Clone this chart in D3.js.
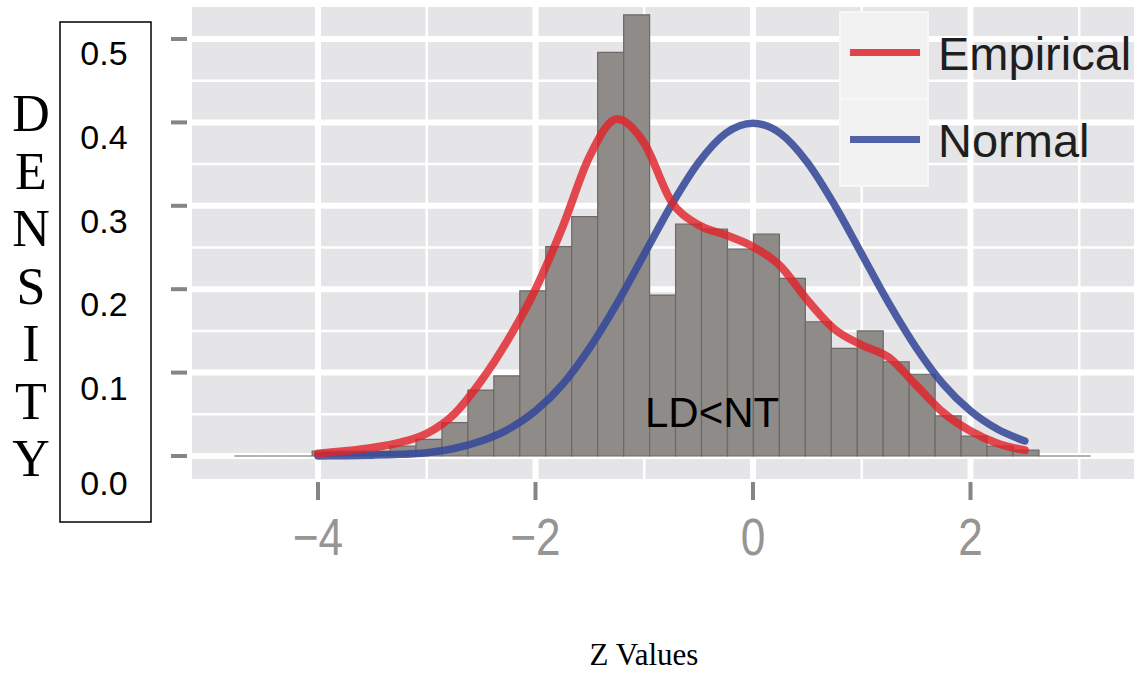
<!DOCTYPE html>
<html>
<head>
<meta charset="utf-8">
<script src="https://cdn.jsdelivr.net/npm/d3@7"></script>
<style>
  body { margin: 0; background: #fff; }
  svg { display: block; }
</style>
</head>
<body>
<svg id="chart"></svg>
<script>
// set the dimensions of the canvas
width = 1140;
height = 673;

// histogram (density per bin)
const binStart = -4.77;
const binWidth = 0.2387;
const densities = [0, 0, 0, 0.006, 0.006, 0.006, 0.012, 0.02, 0.04, 0.079, 0.096,
  0.198, 0.251, 0.287, 0.484, 0.529, 0.193, 0.278, 0.272, 0.248, 0.266, 0.213,
  0.161, 0.129, 0.15, 0.113, 0.098, 0.048, 0.024, 0.012, 0.007, 0, 0];

// density curves, sampled every 0.25 from -4 to 2.5
const curveX = [-4, -3.75, -3.5, -3.25, -3, -2.75, -2.5, -2.25, -2, -1.75, -1.5, -1.25, -1,
  -0.75, -0.5, -0.25, 0, 0.25, 0.5, 0.75, 1, 1.25, 1.5, 1.75, 2, 2.25, 2.5];
const empirical = [0.003, 0.006, 0.01, 0.016, 0.027, 0.05, 0.09, 0.14, 0.2, 0.275, 0.36,
  0.404, 0.375, 0.305, 0.277, 0.265, 0.251, 0.228, 0.187, 0.152, 0.133, 0.118, 0.085,
  0.052, 0.03, 0.015, 0.007];
const normal = [0.0001, 0.0004, 0.001, 0.002, 0.004, 0.009, 0.018, 0.032, 0.054, 0.086, 0.13,
  0.183, 0.242, 0.301, 0.352, 0.387, 0.399, 0.387, 0.352, 0.301, 0.242, 0.183, 0.13,
  0.086, 0.054, 0.032, 0.018];

// axis ticks
const xTicks = [-4, -2, 0, 2];
const xMinor = [-3, -1, 1, 3];
const yTicks = [0, 0.1, 0.2, 0.3, 0.4, 0.5];
const yMinor = [0.05, 0.15, 0.25, 0.35, 0.45];
const yTickLabels = ["0.0", "0.1", "0.2", "0.3", "0.4", "0.5"];
const titleLetters = ["D", "E", "N", "S", "I", "T", "Y"];

const legendItems = [
  { name: "Empirical", colour: "#e0232b" },
  { name: "Normal", colour: "#36499a" }
];

const svg = d3.select("#chart")
  .attr("width", width)
  .attr("height", height);

// panel box
const panel = { left: 192, right: 1134, top: 7, bottom: 479 };

const x = d3.scaleLinear().domain([-4, 2]).range([318, 970.5]);
const y = d3.scaleLinear().domain([0, 0.5]).range([456, 39]);

// gray panel
svg.append("rect")
  .attr("x", panel.left).attr("y", panel.top)
  .attr("width", panel.right - panel.left)
  .attr("height", panel.bottom - panel.top)
  .attr("fill", "#e5e5e7");

// grid lines
const grid = svg.append("g").attr("stroke", "#ffffff");
grid.selectAll(".hminor").data(yMinor).enter().append("line")
  .attr("x1", panel.left).attr("x2", panel.right)
  .attr("y1", d => y(d)).attr("y2", d => y(d))
  .attr("stroke-width", 2.5);
grid.selectAll(".vminor").data(xMinor).enter().append("line")
  .attr("y1", panel.top).attr("y2", panel.bottom)
  .attr("x1", d => x(d)).attr("x2", d => x(d))
  .attr("stroke-width", 2.5);
grid.selectAll(".hmajor").data(yTicks).enter().append("line")
  .attr("x1", panel.left).attr("x2", panel.right)
  .attr("y1", d => y(d)).attr("y2", d => y(d))
  .attr("stroke-width", 6);
grid.selectAll(".vmajor").data(xTicks).enter().append("line")
  .attr("y1", panel.top).attr("y2", panel.bottom)
  .attr("x1", d => x(d)).attr("x2", d => x(d))
  .attr("stroke-width", 6);

// tick marks outside panel
svg.append("g").selectAll("line").data(yTicks).enter().append("line")
  .attr("x1", 171).attr("x2", 187)
  .attr("y1", d => y(d)).attr("y2", d => y(d))
  .attr("stroke", "#858585").attr("stroke-width", 4);
svg.append("g").selectAll("line").data(xTicks).enter().append("line")
  .attr("x1", d => x(d)).attr("x2", d => x(d))
  .attr("y1", 482).attr("y2", 500)
  .attr("stroke", "#858585").attr("stroke-width", 4);

// x tick labels
svg.append("g").selectAll("text").data(xTicks).enter().append("text")
  .attr("transform", d => `translate(${x(d)},555) scale(0.85,1)`)
  .attr("text-anchor", "middle")
  .attr("font-family", "Liberation Sans, Arial, sans-serif")
  .attr("font-size", 52)
  .attr("fill", "#959595")
  .text(d => d < 0 ? "\u2212" + Math.abs(d) : String(d));

// histogram bars, drawn as paths so empty bins still show as a line
svg.append("g").selectAll("path").data(densities).enter().append("path")
  .attr("d", (d, i) => {
    const x0 = x(binStart + i * binWidth), x1 = x(binStart + (i + 1) * binWidth);
    return `M${x0},${y(0)}V${y(d)}H${x1}V${y(0)}Z`;
  })
  .attr("fill", "#8e8b88")
  .attr("stroke", "#6c6966")
  .attr("stroke-width", 1.2);

// density curves
const line = d3.line()
  .x((d, i) => x(curveX[i]))
  .y(d => y(d))
  .curve(d3.curveMonotoneX);

svg.append("path").datum(normal)
  .attr("d", line)
  .attr("fill", "none")
  .attr("stroke", legendItems[1].colour)
  .attr("stroke-opacity", 0.88)
  .attr("stroke-width", 7.5)
  .attr("stroke-linecap", "round");

svg.append("path").datum(empirical)
  .attr("d", line)
  .attr("fill", "none")
  .attr("stroke", legendItems[0].colour)
  .attr("stroke-opacity", 0.82)
  .attr("stroke-width", 8)
  .attr("stroke-linecap", "round");

// annotation inside the plot
svg.append("text")
  .attr("x", 645).attr("y", 427)
  .attr("font-family", "Liberation Sans, Arial, sans-serif")
  .attr("font-size", 42)
  .attr("fill", "#000")
  .text("LD<NT");

// legend
const legend = svg.append("g");
const legendRow = d3.scaleBand().domain(legendItems.map(d => d.name)).range([12, 186]);

legend.selectAll("rect").data(legendItems).enter().append("rect")
  .attr("x", 840).attr("width", 88)
  .attr("y", d => legendRow(d.name))
  .attr("height", legendRow.bandwidth())
  .attr("fill", "#f2f2f3")
  .attr("stroke", "#f7f7f7")
  .attr("stroke-width", 2);

legend.selectAll("line").data(legendItems).enter().append("line")
  .attr("x1", 850).attr("x2", 920)
  .attr("y1", d => legendRow(d.name) + legendRow.bandwidth() / 2 - 3)
  .attr("y2", d => legendRow(d.name) + legendRow.bandwidth() / 2 - 3)
  .attr("stroke", d => d.colour)
  .attr("stroke-opacity", 0.85)
  .attr("stroke-width", 7);

legend.selectAll("text").data(legendItems).enter().append("text")
  .attr("x", 938)
  .attr("y", d => legendRow(d.name) + legendRow.bandwidth() / 2 + 14)
  .attr("font-family", "Liberation Sans, Arial, sans-serif")
  .attr("font-size", 47)
  .attr("fill", "#1e1e1e")
  .text(d => d.name);

// boxed y tick labels (overlaid, not aligned with the ticks)
svg.append("rect")
  .attr("x", 60).attr("y", 22)
  .attr("width", 91).attr("height", 500)
  .attr("fill", "#fff")
  .attr("stroke", "#000")
  .attr("stroke-width", 1.5);

const labelY = d3.scaleLinear().domain([0, 0.1, 0.5]).range([495, 400, 65]);
svg.append("g").selectAll("text").data(yTicks).enter().append("text")
  .attr("x", 104)
  .attr("y", d => labelY(d))
  .attr("text-anchor", "middle")
  .attr("font-family", "Liberation Sans, Arial, sans-serif")
  .attr("font-size", 34)
  .attr("fill", "#000")
  .text((d, i) => yTickLabels[i]);

// stacked axis title
const letterY = d3.scaleLinear().domain([0, titleLetters.length - 1]).range([131, 476]);
svg.append("g").selectAll("text").data(titleLetters).enter().append("text")
  .attr("x", 31)
  .attr("y", (d, i) => letterY(i))
  .attr("text-anchor", "middle")
  .attr("font-family", "Liberation Serif, Times New Roman, serif")
  .attr("font-size", 52)
  .attr("fill", "#000")
  .text(d => d);

// x axis title
svg.append("text")
  .attr("x", 644).attr("y", 665)
  .attr("text-anchor", "middle")
  .attr("font-family", "Liberation Serif, Times New Roman, serif")
  .attr("font-size", 31)
  .attr("fill", "#000")
  .text("Z Values");
</script>
</body>
</html>
